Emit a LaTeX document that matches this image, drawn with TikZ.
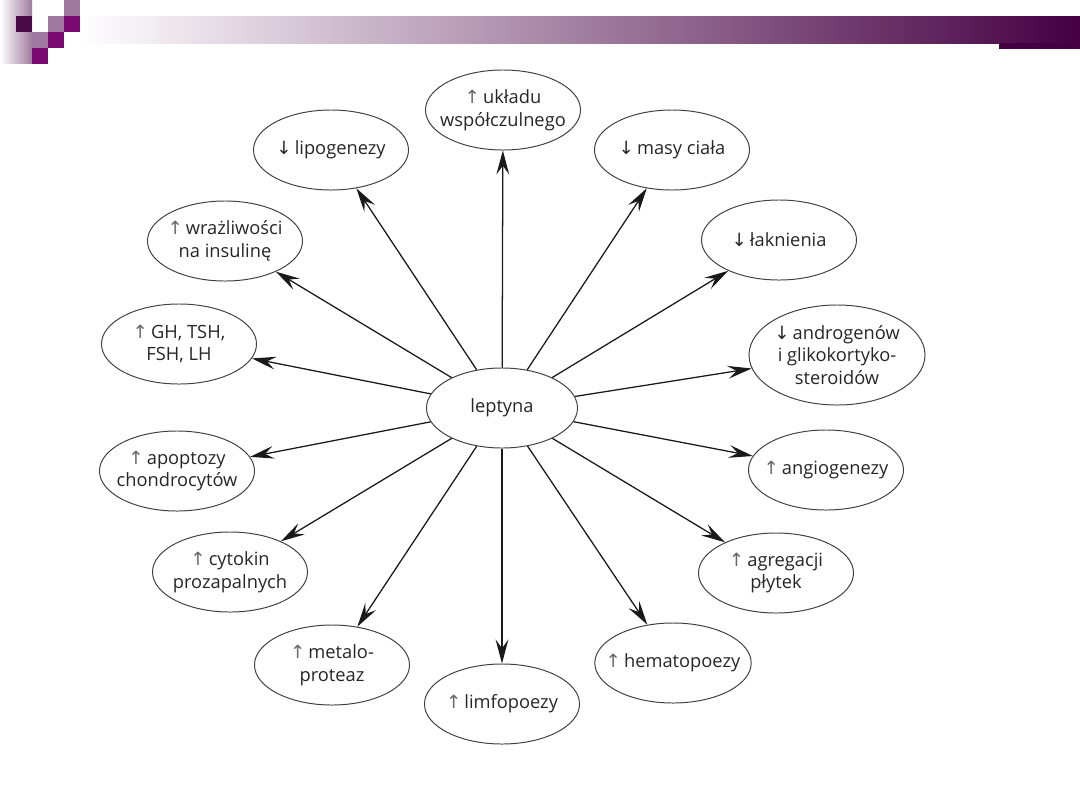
\documentclass[tikz,border=0pt]{standalone}
\usepackage{fontspec}
\setmainfont{Open Sans}
\newfontfamily\strzfont{DejaVu Sans}
\usepackage{tikz}
\usetikzlibrary{shapes.geometric, arrows.meta}
\definecolor{ciemny}{RGB}{74,10,72}
\definecolor{wrzos}{RGB}{160,122,160}
\definecolor{purpura}{RGB}{122,10,112}
\definecolor{koniec}{RGB}{68,0,66}
\newcommand{\gora}{{\strzfont\color{black!60}↑}\,}
\newcommand{\dol}{{\strzfont ↓}\,}

\begin{document}
\begin{tikzpicture}[x=0.025cm, y=-0.025cm,
    >={Stealth[length=6mm, width=3.2mm, inset=2.2mm]},
    pole/.style={ellipse, draw=black!75, line width=0.7pt,
        inner xsep=-3mm, inner ysep=0pt,
        minimum width=3.875cm, minimum height=2cm, align=center,
        text=black!85, font=\fontsize{13}{16}\selectfont}]
    \useasboundingbox (0,0) rectangle (1080,810);

    % Nagłówek slajdu
    \shade[left color=white, right color=wrzos] (0,0) rectangle (32,63);
    \shade[left color=white, right color=koniec] (80,16) rectangle (1080,43);
    \fill[koniec] (999,43) rectangle (1080,49);
    \fill[ciemny] (16,16) rectangle (32,32);
    \fill[wrzos] (32,32) rectangle (48,48);
    \fill[wrzos] (48,16) rectangle (64,32);
    \fill[wrzos] (64,0) rectangle (80,16);
    \fill[purpura] (64,16) rectangle (80,32);
    \fill[purpura] (48,32) rectangle (64,48);
    \fill[purpura] (32,48) rectangle (64,64);
    \fill[white] (48,48) rectangle (64,64);

    % Węzeł centralny
    \node[pole, minimum width=3.775cm] (lep) at (502,408) {leptyna};

    % Efekty działania leptyny
    \node[pole] (symp) at (503,110) {\gora układu\\współczulnego};
    \node[pole] (lipo) at (331,150) {\dol lipogenezy};
    \node[pole] (masa) at (672,150) {\dol masy ciała};
    \node[pole] (insul) at (225,241) {\gora wrażliwości\\na insulinę};
    \node[pole] (lakn) at (779,240) {\dol łaknienia};
    \node[pole] (horm) at (179,344) {\gora GH, TSH,\\FSH, LH};
    \node[pole, minimum width=4.4cm, minimum height=2.5cm] (andr) at (837,355)
        {\dol androgenów\\i glikokortyko-\\steroidów};
    \node[pole] (apop) at (177,471) {\gora apoptozy\\chondrocytów};
    \node[pole] (angio) at (826,470) {\gora angiogenezy};
    \node[pole] (cyto) at (230,572) {\gora cytokin\\prozapalnych};
    \node[pole] (agreg) at (776,573) {\gora agregacji\\płytek};
    \node[pole] (metal) at (332,665) {\gora metalo-\\proteaz};
    \node[pole] (hemat) at (673,663) {\gora hematopoezy};
    \node[pole] (limf) at (502,704) {\gora limfopoezy};

    % Strzałki
    \foreach \n in {symp, lipo, masa, insul, lakn, horm, andr, apop,
        angio, cyto, agreg, metal, hemat, limf}
        \draw[->, line width=0.9pt, black!90] (lep) -- (\n);
\end{tikzpicture}
\end{document}
